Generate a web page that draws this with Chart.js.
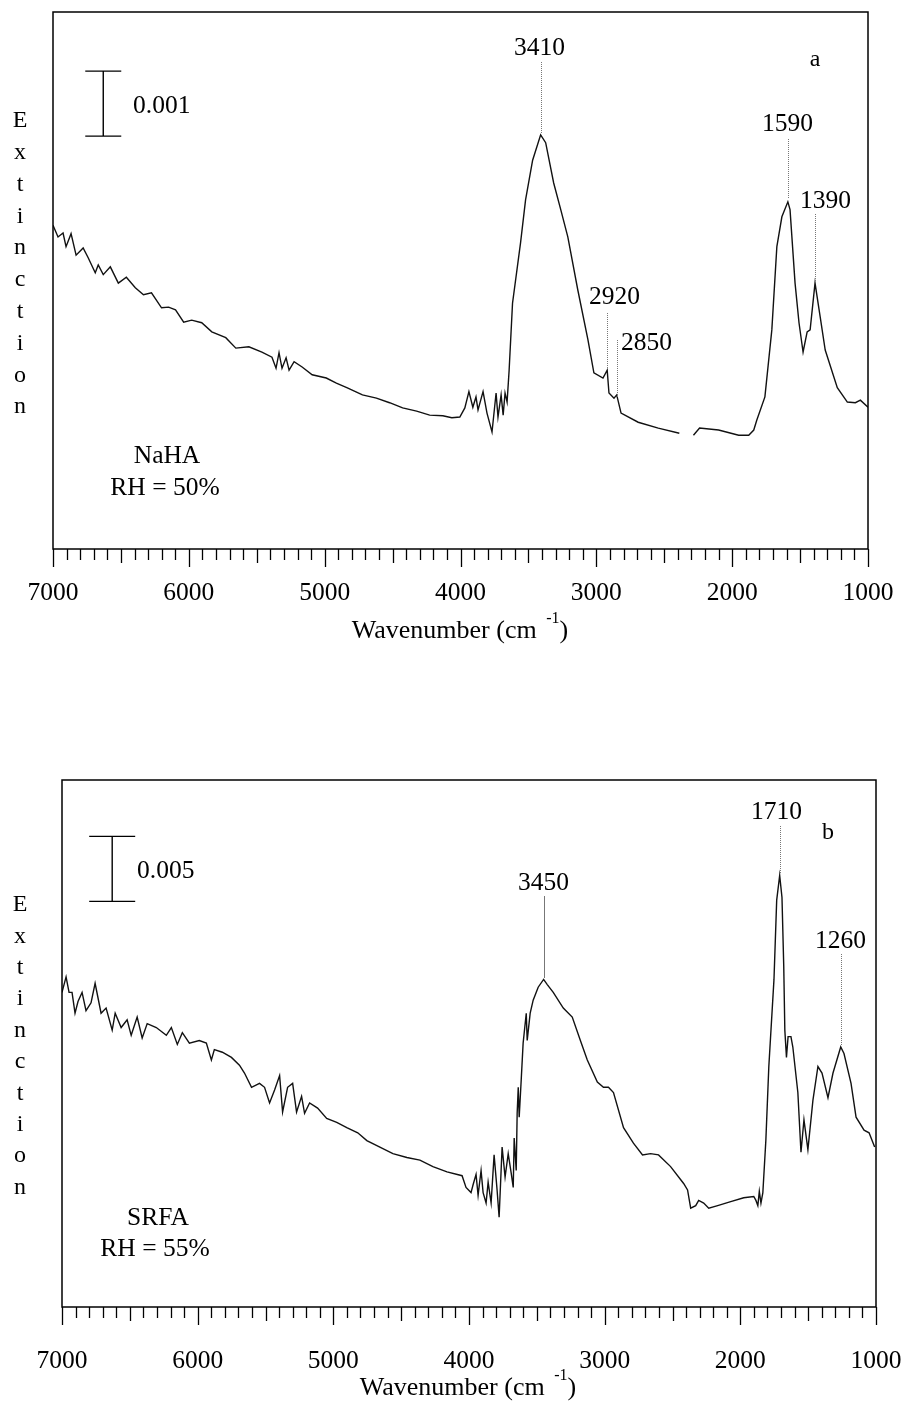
<!DOCTYPE html>
<html>
<head>
<meta charset="utf-8">
<script src="https://cdn.jsdelivr.net/npm/chart.js@4.4.1/dist/chart.umd.min.js"></script>
<style>
  html, body { margin: 0; padding: 0; background: #fff; }
  #wrap { position: relative; width: 904px; height: 1401px; }
  .box { position: absolute; left: 0; width: 904px; }
</style>
</head>
<body>
<div id="wrap">
  <div class="box" style="top:0;height:660px"><canvas id="chartA"></canvas></div>
  <div class="box" style="top:770px;height:631px"><canvas id="chartB"></canvas></div>
</div>
<script>
// (a) NaHA, RH = 50%  -- extinction in units of 0.001
const wnA = [7000, 6963, 6926, 6904, 6867, 6830, 6778, 6741, 6689, 6667, 6630, 6578, 6519, 6460, 6394, 6334,
  6275, 6201, 6149, 6098, 6038, 5979, 5905, 5831, 5728, 5654, 5558, 5462, 5388, 5358, 5336, 5314, 5284, 5262,
  5225, 5166, 5092, 4988, 4914, 4833, 4722, 4619, 4522, 4426, 4323, 4227, 4130, 4064, 4005, 3968, 3938, 3909,
  3886, 3871, 3834, 3805, 3768, 3738, 3724, 3701, 3686, 3672, 3657, 3642, 3617, 3558, 3521, 3469, 3410, 3373,
  3314, 3262, 3210, 3136, 3062, 3018, 2951, 2920, 2907, 2870, 2850, 2818, 2692, 2544, 2389, 2330, 2285, 2240,
  2100, 1952, 1878, 1841, 1819, 1759, 1708, 1671, 1634, 1590, 1574, 1537, 1508, 1478, 1448, 1426, 1390, 1352,
  1315, 1226, 1152, 1093, 1056, 1000];
const extA = [4.98, 4.80, 4.86, 4.65, 4.85, 4.52, 4.63, 4.48, 4.25, 4.37, 4.22, 4.34, 4.09, 4.18, 4.02, 3.91,
  3.94, 3.71, 3.72, 3.68, 3.49, 3.52, 3.48, 3.34, 3.25, 3.09, 3.11, 3.03, 2.95, 2.78, 3.02, 2.78, 2.94, 2.75,
  2.88, 2.80, 2.68, 2.63, 2.55, 2.48, 2.37, 2.32, 2.25, 2.17, 2.12, 2.06, 2.05, 2.02, 2.03, 2.17, 2.42, 2.18,
  2.34, 2.14, 2.42, 2.09, 1.80, 2.40, 2.03, 2.37, 2.06, 2.40, 2.26, 2.75, 3.78, 4.71, 5.37, 5.98, 6.37, 6.25,
  5.63, 5.22, 4.80, 3.98, 3.22, 2.71, 2.63, 2.75, 2.40, 2.32, 2.37, 2.09, 1.95, 1.86, 1.78, null, 1.75, 1.86,
  1.83, 1.75, 1.75, 1.83, 1.98, 2.34, 3.37, 4.65, 5.11, 5.34, 5.22, 4.09, 3.48, 3.03, 3.34, 3.37, 4.09, 3.57,
  3.06, 2.48, 2.26, 2.25, 2.29, 2.18];

// (b) SRFA, RH = 55%  -- extinction in units of 0.001
const wnB = [7000, 6970, 6948, 6926, 6904, 6882, 6852, 6823, 6786, 6756, 6712, 6675, 6630, 6608, 6564, 6520,
  6490, 6446, 6409, 6372, 6305, 6231, 6194, 6150, 6113, 6061, 5988, 5936, 5899, 5877, 5818, 5751, 5692, 5655,
  5603, 5544, 5507, 5470, 5433, 5396, 5374, 5337, 5300, 5271, 5234, 5212, 5175, 5116, 5049, 4975, 4901, 4820,
  4753, 4657, 4561, 4458, 4362, 4266, 4162, 4051, 4022, 3985, 3970, 3948, 3933, 3911, 3896, 3874, 3859, 3837,
  3815, 3793, 3778, 3756, 3734, 3711, 3689, 3674, 3667, 3652, 3645, 3637, 3630, 3615, 3601, 3593, 3578, 3571,
  3549, 3527, 3505, 3490, 3450, 3423, 3379, 3305, 3239, 3179, 3128, 3054, 3009, 2972, 2935, 2861, 2788, 2721,
  2662, 2603, 2514, 2418, 2389, 2366, 2329, 2307, 2270, 2233, 2167, 2071, 1975, 1901, 1885, 1871, 1860, 1848,
  1834, 1812, 1790, 1752, 1732, 1710, 1693, 1680, 1672, 1660, 1648, 1627, 1613, 1576, 1553, 1531, 1502, 1465,
  1428, 1398, 1354, 1317, 1260, 1236, 1184, 1147, 1088, 1051, 1010];
const extB = [24.2, 25.4, 24.2, 24.2, 22.6, 23.5, 24.2, 22.8, 23.4, 24.9, 22.6, 23.0, 21.3, 22.6, 21.5, 22.1,
  20.9, 22.3, 20.7, 21.8, 21.5, 20.9, 21.5, 20.2, 21.1, 20.3, 20.5, 20.3, 19.0, 19.8, 19.6, 19.2, 18.6, 18.0,
  16.9, 17.2, 16.9, 15.7, 16.7, 17.8, 15.0, 16.9, 17.2, 15.0, 16.2, 14.9, 15.7, 15.3, 14.5, 14.2, 13.8, 13.4,
  12.8, 12.3, 11.8, 11.5, 11.3, 10.8, 10.4, 10.1, 9.2, 8.8, 9.4, 10.2, 8.6, 10.5, 8.8, 8.0, 9.6, 8.0,
  11.7, 9.0, 6.9, 12.3, 10.0, 11.8, 10.3, 9.2, 13.0, 10.5, 14.9, 16.9, 14.6, 17.5, 20.3, 21.1, 22.6, 20.5,
  22.6, 23.6, 24.2, 24.6, 25.2, 24.8, 24.2, 23.0, 22.3, 20.5, 19.0, 17.3, 16.9, 16.9, 16.5, 13.8, 12.6, 11.7,
  11.8, 11.7, 10.8, 9.5, 9.0, 7.6, 7.8, 8.2, 8.0, 7.6, 7.8, 8.1, 8.4, 8.5, 8.2, 7.8, 8.9, 8.0,
  8.8, 12.8, 18.5, 25.2, 31.3, 33.2, 31.5, 26.2, 21.3, 19.2, 20.8, 20.8, 20.0, 16.5, 11.9, 14.4, 12.1, 15.9,
  18.5, 18.0, 16.1, 18.0, 20.0, 19.5, 17.2, 14.6, 13.6, 13.4, 12.3];

const tickLabels = [7000, 6000, 5000, 4000, 3000, 2000, 1000];
const peaksA = [3410, 2920, 2850, 1590, 1390];
const peaksB = [3450, 1710, 1260];

const SERIF = '"Liberation Serif", "Times New Roman", serif';

function toPoints(xs, ys) {
  return xs.map((x, i) => ({ x: x, y: ys[i] }));
}

// decorations: frame, tick marks, scale bar, peak markers, texts
const decor = {
  id: 'decor',
  afterDraw(chart, args, o) {
    const ctx = chart.ctx;
    const a = chart.chartArea;
    const xs = chart.scales.x, ys = chart.scales.y;
    ctx.save();
    ctx.strokeStyle = '#000';
    ctx.lineWidth = 1.5;
    ctx.strokeRect(a.left, a.top, a.right - a.left, a.bottom - a.top);

    // tick marks every 100, medium at 500, long at 1000
    ctx.lineWidth = 1.3;
    for (let w = 1000; w <= 7000; w += 100) {
      const px = Math.round(xs.getPixelForValue(w)) + 0.5;
      const len = w % 1000 === 0 ? 18 : (w % 500 === 0 ? 14 : 11);
      ctx.beginPath();
      ctx.moveTo(px, a.bottom);
      ctx.lineTo(px, a.bottom + len);
      ctx.stroke();
    }

    // scale bar
    const bx = xs.getPixelForValue(o.bar.wn);
    const by0 = ys.getPixelForValue(o.bar.from);
    const by1 = ys.getPixelForValue(o.bar.from + o.bar.span);
    ctx.lineWidth = 1.4;
    ctx.beginPath();
    ctx.moveTo(bx, by0); ctx.lineTo(bx, by1);
    ctx.moveTo(bx - o.bar.cap, by0); ctx.lineTo(bx + o.bar.cap, by0);
    ctx.moveTo(bx - o.bar.cap, by1); ctx.lineTo(bx + o.bar.cap, by1);
    ctx.stroke();

    // peak markers
    ctx.font = '25.5px ' + SERIF;
    ctx.fillStyle = '#000';
    ctx.textAlign = 'center';
    ctx.textBaseline = 'middle';
    o.peaks.forEach((p, i) => {
      const m = o.marks[i];
      const px = Math.round(xs.getPixelForValue(p)) + 0.5;
      ctx.strokeStyle = '#777';
      ctx.lineWidth = 1;
      ctx.setLineDash(m.solid ? [] : [1, 1]);
      ctx.beginPath();
      ctx.moveTo(px, m.y0);
      ctx.lineTo(px, m.y1);
      ctx.stroke();
      ctx.setLineDash([]);
      ctx.fillText(String(p), px + m.dx, m.ty);
    });

    // free texts
    o.texts.forEach(t => {
      ctx.font = t.size + 'px ' + SERIF;
      ctx.textAlign = t.align || 'center';
      ctx.fillText(t.text, t.x, t.y);
    });

    // vertical stacked y label
    ctx.font = '24px ' + SERIF;
    ctx.textAlign = 'center';
    'Extinction'.split('').forEach((ch, i) => {
      ctx.fillText(ch, 20, o.yLabel.top + i * o.yLabel.step);
    });

    // x axis title with superscript
    const main = 'Wavenumber (cm ';
    const sup = '-1';
    const close = ')';
    ctx.font = '26px ' + SERIF;
    const w1 = ctx.measureText(main).width + 3;
    ctx.font = '16px ' + SERIF;
    const w2 = ctx.measureText(sup).width;
    ctx.font = '26px ' + SERIF;
    const w3 = ctx.measureText(close).width;
    const sx = o.title.x - (w1 + w2 + w3) / 2;
    ctx.textAlign = 'left';
    ctx.fillText(main, sx, o.title.y);
    ctx.font = '16px ' + SERIF;
    ctx.fillText(sup, sx + w1, o.title.y - 12);
    ctx.font = '26px ' + SERIF;
    ctx.fillText(close, sx + w1 + w2, o.title.y);
    ctx.restore();
  }
};

function makeChart(id, xs, ys, opts) {
  return new Chart(document.getElementById(id), {
    type: 'line',
    data: {
      datasets: [{
        data: toPoints(xs, ys),
        borderColor: '#111',
        borderWidth: 1.4,
        pointRadius: 0,
        tension: 0,
        spanGaps: false,
        fill: false
      }]
    },
    options: {
      responsive: true,
      maintainAspectRatio: false,
      animation: false,
      events: [],
      layout: { padding: opts.padding },
      plugins: {
        legend: { display: false },
        tooltip: { enabled: false },
        decor: opts.decor
      },
      scales: {
        x: {
          type: 'linear',
          reverse: true,
          min: 1000,
          max: 7000,
          border: { display: false },
          grid: { display: false, drawTicks: false },
          afterBuildTicks: (s) => { s.ticks = tickLabels.map(v => ({ value: v })); },
          afterFit: (s) => {
            s.height = opts.axisHeight;
            s.paddingLeft = 0;
            s.paddingRight = 0;
          },
          ticks: {
            autoSkip: false,
            maxRotation: 0,
            padding: opts.tickPad,
            color: '#000',
            font: { family: SERIF, size: 25.5 },
            callback: (v) => String(v)
          }
        },
        y: {
          display: false,
          min: 0,
          max: opts.yMax
        }
      }
    },
    plugins: [decor]
  });
}

makeChart('chartA', wnA, extA, {
  padding: { left: 53, right: 36, top: 12, bottom: 0 },
  axisHeight: 111,
  tickPad: 29,
  yMax: 8.26,
  decor: {
    bar: { wn: 6630, from: 6.35, span: 1, cap: 18 },
    peaks: peaksA,
    marks: [
      { y0: 133, y1: 62, dx: -2, ty: 48 },
      { y0: 368, y1: 312, dx: 7, ty: 297 },
      { y0: 397, y1: 340, dx: 29, ty: 343 },
      { y0: 198, y1: 138, dx: -1, ty: 124 },
      { y0: 281, y1: 213, dx: 10, ty: 201 }
    ],
    texts: [
      { text: '0.001', x: 133, y: 106, size: 25.5, align: 'left' },
      { text: 'a', x: 815, y: 60, size: 24 },
      { text: 'NaHA', x: 167, y: 456, size: 25.5 },
      { text: 'RH = 50%', x: 165, y: 488, size: 25.5 }
    ],
    yLabel: { top: 121, step: 31.8 },
    title: { x: 460, y: 631 }
  }
});

makeChart('chartB', wnB, extB, {
  padding: { left: 62, right: 28, top: 10, bottom: 0 },
  axisHeight: 94,
  tickPad: 39,
  yMax: 40.54,
  decor: {
    bar: { wn: 6630, from: 31.2, span: 5, cap: 23 },
    peaks: peaksB,
    marks: [
      { y0: 208, y1: 126, dx: -1, ty: 113, solid: true },
      { y0: 103, y1: 56, dx: -4, ty: 42 },
      { y0: 275, y1: 183, dx: -1, ty: 171 }
    ],
    texts: [
      { text: '0.005', x: 137, y: 101, size: 25.5, align: 'left' },
      { text: 'b', x: 828, y: 63, size: 24 },
      { text: 'SRFA', x: 158, y: 448, size: 25.5 },
      { text: 'RH = 55%', x: 155, y: 479, size: 25.5 }
    ],
    yLabel: { top: 135, step: 31.4 },
    title: { x: 468, y: 618 }
  }
});
</script>
</body>
</html>
